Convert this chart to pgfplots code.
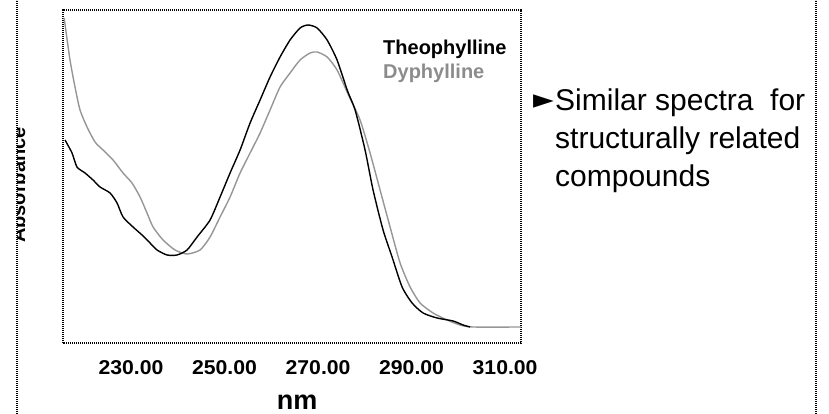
\documentclass[border=0pt]{standalone}
\usepackage{pgfplots}
\pgfplotsset{compat=1.18}
\usepackage{fontspec}
\setmainfont{Liberation Sans}
\newfontfamily\symfont{DejaVu Sans}
\definecolor{dyph}{RGB}{150,150,150}
\definecolor{dyphtext}{RGB}{140,140,140}

\pgfplotstableread{
nm A
215.70 325
216.95 283
218.02 256
219.09 233
220.59 216
222.30 201
224.01 193
226.15 183
228.29 170
230.21 160
231.93 146
233.42 130
234.71 116
236.85 103
239.41 93
241.98 89
244.76 93
246.90 106
249.04 126
251.18 146
253.32 170
255.46 190
257.60 210
259.73 233
261.87 256
264.01 270
266.15 283
268.29 290
269.79 291
271.93 286
274.06 273
276.50 248
278.98 223
281.12 190
283.26 153
285.40 116
287.54 80
289.68 56
291.82 40
294.60 30
297.59 23
300.37 18
303.15 16
313.40 16
}\dyphylline

\pgfplotstableread{
nm A
215.88 203
217.38 190
218.44 176
220.16 170
221.87 163
223.37 156
225.51 150
227.01 140
228.29 126
230.43 116
232.35 108
234.06 100
235.56 93
237.70 88
239.84 88
241.98 93
244.12 106
246.90 123
249.04 146
251.18 170
253.32 193
255.46 220
257.60 243
259.73 266
261.87 286
264.01 303
266.15 315
267.86 318
269.79 315
271.93 303
274.06 283
276.30 252
277.92 233
280.05 193
281.76 153
283.90 113
285.83 86
287.97 56
290.11 40
292.46 30
295.45 25
298.88 22
301.01 18
302.50 16
}\theophylline

\begin{document}
\begin{tikzpicture}[x=1pt,y=1pt]
\path[use as bounding box] (0,0) rectangle (829,414);
\tikzset{dotline/.style={black, line width=1.3pt, dash pattern=on 1.1pt off 0.9pt}}
% outer dotted lines
\draw[dotline] (17,0) -- (17,414);
\draw[dotline] (816,0) -- (816,414);
% clipped y label
\begin{scope}
\clip (17,0) rectangle (40,414);
\node[rotate=90, anchor=base, inner sep=0pt, font=\fontsize{20}{24}\selectfont\bfseries] at (25,229) {Absorbance};
\end{scope}
\begin{axis}[
  at={(63pt,71pt)}, anchor=south west,
  scale only axis, width=458pt, height=333pt,
  xmin=215.45, xmax=313.4, ymin=0, ymax=333,
  axis line style={dotline},
  major tick length=0pt,
  ytick=\empty,
  xtick={230,250,270,290,310},
  xticklabels={230.00,250.00,270.00,290.00,310.00},
  xticklabel style={anchor=base, yshift=-32pt, inner sep=0pt, xscale=1.06, font=\fontsize{20}{24}\selectfont\bfseries},
  clip=false,
]
\addplot[dyph, line width=1.4pt, smooth, tension=0.4, line join=round] table[x=nm,y=A] {\dyphylline};
\addplot[black, line width=1.4pt, smooth, tension=0.4, line join=round] table[x=nm,y=A] {\theophylline};
\end{axis}
% legend
\node[anchor=base west, inner sep=0pt, font=\fontsize{20}{24}\selectfont\bfseries] at (383,359) {Theophylline};
\node[anchor=base west, inner sep=0pt, text=dyphtext, font=\fontsize{20}{24}\selectfont\bfseries] at (383,335) {Dyphylline};
% x label
\node[anchor=base, inner sep=0pt, font=\fontsize{27}{30}\selectfont\bfseries] at (297,4) {nm};
% bullet text
\node[anchor=east, inner sep=0pt, font=\symfont\fontsize{27}{30}\selectfont] at (554,312) {►};
\node[anchor=base west, inner sep=0pt, font=\fontsize{30}{38}\selectfont] at (555,303) {Similar spectra\ \ for};
\node[anchor=base west, inner sep=0pt, font=\fontsize{30}{38}\selectfont] at (555,265) {structurally related};
\node[anchor=base west, inner sep=0pt, font=\fontsize{30}{38}\selectfont] at (555,227) {compounds};
\end{tikzpicture}
\end{document}
